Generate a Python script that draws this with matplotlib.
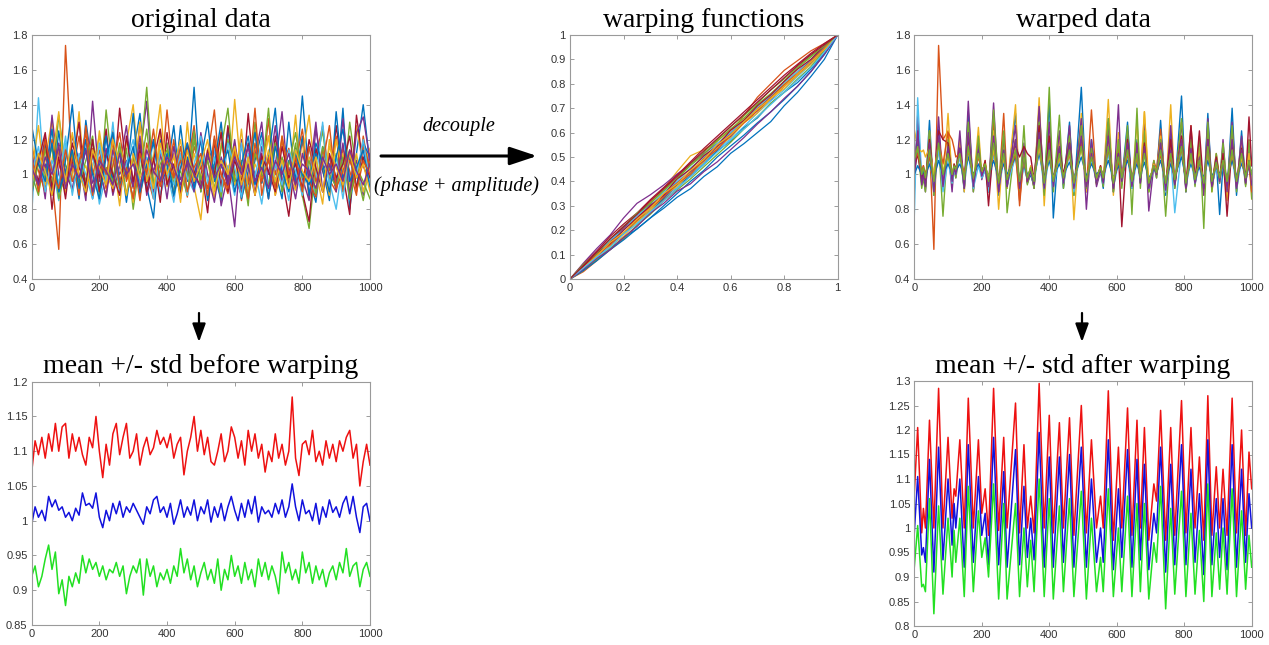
"""Static re-draw of the warping overview figure: original data, warping
functions, warped data, and mean +/- std before and after warping."""

import matplotlib

matplotlib.use("Agg")
import matplotlib.pyplot as plt  # noqa: E402
import numpy as np  # noqa: E402
from matplotlib.patches import FancyArrowPatch  # noqa: E402
from matplotlib.ticker import FuncFormatter  # noqa: E402

FIG_W, FIG_H = 1269, 645
MATLAB_COLORS = ["#0072BD", "#D95319", "#EDB120", "#7E2F8E", "#77AC30", "#4DBEEE", "#A2142F"]

# ---- original data: curves sampled every 20 on 0..1000 ----
ORIGINAL_CURVES = [
    [1.05, 0.92, 1.18, 0.88, 1.25, 0.95, 1.10, 0.86, 1.31, 1.02, 0.90, 1.22, 0.97, 1.15, 0.84, 1.12, 1.35,
     0.93, 0.75, 1.20, 1.05, 0.88, 1.28, 0.96, 1.50, 0.90, 1.12, 1.00, 0.85, 1.26, 0.94, 1.18, 0.87, 1.08,
     1.24, 0.92, 1.02, 0.86, 1.30, 0.95, 1.45, 0.98, 0.84, 1.16, 1.05, 0.92, 1.38, 0.80, 1.12, 1.40, 1.05],
    [1.10, 0.95, 1.05, 0.98, 0.57, 1.74, 1.00, 1.22, 0.90, 1.15, 1.02, 0.88, 1.25, 0.96, 1.08, 0.92, 1.30,
     1.00, 0.86, 1.12, 0.95, 1.20, 0.88, 1.05, 1.28, 0.93, 1.10, 1.37, 0.90, 1.02, 1.18, 0.85, 1.08, 1.25,
     0.95, 1.32, 0.88, 1.05, 1.15, 0.92, 1.20, 0.86, 1.10, 1.28, 0.97, 0.90, 1.15, 1.02, 0.88, 1.22, 1.00],
    [1.20, 0.90, 1.08, 1.32, 0.85, 1.15, 0.98, 1.36, 0.88, 1.05, 1.22, 0.92, 1.10, 0.82, 1.18, 1.40, 0.95,
     1.06, 0.88, 1.25, 0.97, 1.12, 0.84, 1.30, 0.93, 0.74, 1.15, 1.02, 1.26, 0.90, 1.43, 0.98, 0.86, 1.14,
     1.00, 1.22, 0.89, 1.08, 0.95, 1.34, 0.87, 1.10, 1.02, 0.83, 1.20, 0.95, 1.12, 0.90, 1.28, 1.04, 1.15],
    [0.95, 1.12, 0.86, 1.34, 1.00, 0.90, 1.22, 1.08, 0.85, 1.42, 0.96, 1.15, 0.88, 1.05, 1.28, 0.93, 1.10,
     1.42, 0.90, 1.02, 1.18, 0.87, 1.12, 0.97, 1.25, 0.92, 1.08, 1.16, 0.82, 1.00, 0.70, 1.20, 0.94, 1.10,
     1.30, 0.88, 1.05, 1.36, 0.92, 1.15, 0.98, 0.85, 1.26, 1.02, 1.10, 0.90, 1.32, 0.96, 1.08, 0.88, 1.12],
    [1.00, 0.88, 1.15, 0.92, 1.34, 1.05, 0.90, 1.10, 0.96, 1.20, 0.86, 1.37, 1.00, 0.92, 1.15, 0.80, 1.08,
     1.50, 0.95, 1.02, 1.18, 0.88, 1.10, 0.98, 1.25, 0.90, 1.12, 1.04, 0.87, 1.20, 0.95, 1.08, 0.82, 1.30,
     1.00, 1.38, 0.92, 1.10, 0.97, 1.18, 0.88, 0.69, 1.06, 1.25, 0.94, 1.12, 0.90, 1.30, 1.02, 0.85, 1.08],
    [0.77, 1.44, 0.92, 1.05, 0.85, 1.18, 0.96, 1.08, 0.88, 1.12, 0.83, 1.00, 1.15, 0.90, 1.06, 0.86, 1.10,
     0.95, 1.20, 0.88, 1.02, 0.84, 1.12, 0.98, 0.90, 1.08, 0.86, 1.15, 0.95, 1.05, 0.88, 1.18, 0.92, 1.02,
     0.83, 1.10, 0.97, 1.06, 0.85, 1.14, 0.93, 1.00, 0.88, 1.12, 0.96, 0.80, 1.08, 0.94, 1.04, 0.90, 1.02],
    [1.08, 0.96, 1.22, 0.80, 1.15, 0.92, 1.05, 1.30, 0.88, 1.12, 0.98, 1.26, 0.90, 1.38, 1.02, 0.86, 1.18,
     0.95, 1.10, 0.84, 1.24, 1.00, 0.90, 1.16, 0.95, 1.05, 0.78, 1.20, 0.92, 1.28, 1.00, 0.88, 1.35, 0.95,
     1.12, 0.86, 1.22, 0.98, 0.76, 1.10, 0.90, 0.73, 1.15, 1.02, 0.88, 1.28, 1.00, 0.77, 1.34, 1.05, 0.95],
    [0.88, 1.10, 1.00, 1.26, 0.90, 1.08, 1.40, 0.95, 1.15, 0.86, 1.05, 1.22, 0.93, 1.12, 0.98, 1.35, 0.88,
     1.06, 1.18, 0.95, 1.02, 1.28, 0.90, 1.10, 0.98, 1.20, 0.85, 1.06, 1.30, 0.92, 1.14, 0.86, 1.02, 1.24,
     0.95, 1.10, 1.38, 0.90, 1.08, 0.98, 1.22, 0.88, 1.12, 1.03, 0.85, 1.36, 0.97, 1.10, 0.92, 1.18, 1.10],
    [1.15, 1.02, 0.90, 1.20, 1.06, 0.94, 1.12, 0.88, 1.28, 1.00, 1.14, 0.92, 1.05, 1.24, 0.96, 1.10, 0.85,
     1.18, 1.02, 0.93, 1.37, 0.98, 1.08, 0.87, 1.16, 1.04, 0.92, 1.22, 1.00, 0.89, 1.12, 1.05, 0.95, 1.38,
     0.88, 1.10, 1.00, 1.20, 0.92, 1.06, 1.26, 0.96, 0.87, 1.14, 1.02, 1.22, 0.90, 1.08, 0.98, 1.16, 1.05],
    [1.02, 1.28, 0.94, 1.08, 1.36, 0.90, 1.14, 0.98, 1.05, 0.88, 1.25, 1.00, 0.92, 1.16, 1.06, 0.84, 1.30,
     0.96, 1.10, 1.40, 0.93, 1.04, 1.20, 0.90, 1.12, 0.98, 1.08, 0.86, 1.18, 1.02, 0.94, 1.26, 0.90, 1.06,
     0.97, 1.14, 0.88, 1.22, 1.00, 0.91, 1.10, 1.34, 0.95, 1.06, 0.88, 1.20, 1.02, 0.94, 1.12, 0.90, 1.04],
    [1.12, 0.94, 1.06, 0.88, 1.18, 1.00, 0.92, 1.10, 1.20, 0.95, 1.04, 0.87, 1.14, 1.00, 1.08, 0.93, 1.22,
     0.88, 1.02, 1.12, 0.86, 1.16, 0.97, 1.06, 0.90, 1.24, 1.00, 0.84, 1.10, 0.96, 1.20, 0.92, 1.06, 0.88,
     1.16, 1.00, 1.28, 0.94, 1.04, 0.86, 1.12, 0.98, 1.30, 0.90, 1.06, 0.95, 1.18, 0.88, 1.24, 1.33, 1.08],
    [0.90, 1.06, 0.98, 1.16, 0.86, 1.02, 1.12, 0.94, 1.08, 1.22, 0.90, 1.04, 0.96, 1.18, 0.88, 1.10, 1.00,
     1.26, 0.92, 1.06, 1.14, 0.95, 1.02, 0.88, 1.20, 0.97, 1.08, 0.92, 1.15, 1.38, 0.96, 1.04, 0.86, 1.12,
     1.00, 0.94, 1.18, 0.90, 1.06, 1.24, 0.98, 1.08, 0.89, 1.16, 1.00, 0.93, 1.10, 0.86, 1.04, 0.96, 0.86],
    [1.00, 1.16, 0.90, 1.08, 0.95, 1.22, 0.88, 1.12, 1.00, 0.86, 1.18, 0.96, 1.30, 0.90, 1.06, 1.20, 0.92,
     1.10, 0.86, 1.14, 1.02, 0.94, 1.16, 0.88, 1.06, 1.22, 0.95, 1.10, 0.90, 1.18, 1.04, 0.87, 1.12, 0.98,
     1.20, 0.90, 1.06, 0.94, 1.14, 1.02, 0.88, 1.16, 0.96, 1.30, 0.92, 1.10, 0.86, 1.14, 1.00, 1.20, 0.94],
    [0.96, 1.08, 1.24, 0.92, 1.10, 0.86, 1.18, 1.04, 0.94, 1.20, 0.90, 1.12, 1.00, 0.88, 1.22, 0.96, 1.14,
     0.90, 1.08, 1.26, 0.94, 1.06, 0.88, 1.18, 1.02, 0.92, 1.14, 1.00, 1.24, 0.90, 1.08, 0.96, 1.18, 0.88,
     1.10, 1.02, 0.90, 1.16, 0.98, 1.06, 0.92, 1.20, 1.04, 0.90, 1.12, 0.98, 1.06, 1.22, 0.92, 1.10, 0.98],
    [1.28, 1.06, 0.96, 1.18, 0.90, 1.02, 1.14, 0.92, 1.20, 1.00, 0.86, 1.10, 1.24, 0.94, 1.02, 1.16, 0.90,
     1.06, 1.20, 0.96, 1.12, 0.88, 1.04, 1.18, 0.92, 1.08, 1.30, 0.96, 1.04, 1.14, 0.90, 1.06, 1.22, 0.94,
     1.08, 0.86, 1.16, 1.02, 0.90, 1.12, 1.00, 0.94, 1.18, 1.06, 0.90, 1.10, 1.26, 0.96, 1.04, 1.14, 0.92],
    [1.10, 0.90, 1.20, 1.02, 0.92, 1.14, 0.96, 1.06, 1.24, 0.88, 1.10, 1.00, 1.18, 0.92, 1.04, 0.86, 1.12,
     1.00, 1.26, 0.94, 1.08, 0.98, 1.16, 0.90, 1.04, 1.12, 0.88, 1.20, 1.00, 0.92, 1.14, 1.04, 0.86, 1.18,
     0.96, 1.08, 0.92, 1.22, 1.00, 1.10, 0.90, 1.16, 0.96, 1.06, 1.28, 0.92, 1.02, 1.14, 0.90, 1.08, 1.00],
    [0.94, 1.12, 1.02, 0.88, 1.16, 0.96, 1.24, 1.00, 0.90, 1.14, 1.04, 0.94, 1.20, 1.06, 0.88, 1.12, 0.98,
     1.08, 0.92, 1.18, 1.00, 1.10, 0.86, 1.14, 0.96, 1.06, 1.20, 0.90, 1.08, 1.00, 1.16, 0.94, 1.10, 0.88,
     1.04, 1.22, 0.96, 1.08, 0.92, 1.14, 1.02, 0.96, 1.10, 0.90, 1.16, 1.04, 0.94, 1.12, 0.98, 1.06, 0.90],
    [1.04, 0.94, 1.10, 1.00, 1.16, 0.92, 1.06, 0.98, 1.14, 0.90, 1.08, 1.02, 0.94, 1.12, 1.00, 1.06, 0.92,
     1.14, 1.02, 0.96, 1.10, 1.04, 0.94, 1.08, 1.00, 0.92, 1.12, 0.98, 1.06, 0.94, 1.10, 1.00, 1.16, 0.96,
     1.04, 0.92, 1.08, 1.00, 1.12, 0.94, 1.06, 1.02, 0.92, 1.10, 1.00, 1.06, 0.96, 1.14, 1.02, 0.94, 1.06],
]

# ---- warping functions gamma(t) ----
WARP_T = [0, 0.05, 0.1, 0.15, 0.2, 0.25, 0.3, 0.35, 0.4, 0.45, 0.5,
          0.55, 0.6, 0.65, 0.7, 0.75, 0.8, 0.85, 0.9, 0.95, 1.0]
WARP_CURVES = [
    [0, .04, .085, .125, .17, .205, .25, .29, .335, .37, .42, .46, .515, .555, .60, .645, .71, .765, .83, .90, 1],
    [0, .03, .075, .12, .165, .22, .27, .325, .37, .425, .48, .535, .60, .67, .745, .80, .855, .895, .935, .965, 1],
    [0, .055, .10, .16, .21, .26, .315, .37, .44, .505, .53, .565, .61, .655, .705, .75, .80, .85, .90, .95, 1],
    [0, .065, .125, .18, .25, .31, .345, .385, .43, .47, .515, .555, .60, .645, .69, .735, .79, .835, .885, .94, 1],
    [0, .05, .11, .155, .215, .26, .31, .36, .41, .465, .51, .565, .615, .66, .715, .76, .81, .865, .91, .955, 1],
    [0, .04, .09, .135, .19, .23, .28, .335, .375, .43, .475, .53, .575, .625, .68, .73, .775, .83, .88, .935, 1],
    [0, .06, .115, .175, .225, .27, .325, .375, .425, .48, .535, .585, .635, .685, .735, .785, .835, .88, .925, .965, 1],
    [0, .045, .09, .145, .185, .24, .28, .33, .385, .42, .47, .525, .565, .62, .66, .72, .765, .805, .86, .925, 1],
    [0, .055, .09, .15, .205, .245, .295, .345, .395, .44, .495, .545, .595, .65, .70, .74, .79, .85, .895, .945, 1],
    [0, .04, .08, .135, .175, .235, .28, .34, .38, .435, .48, .54, .58, .64, .68, .74, .78, .835, .88, .94, 1],
    [0, .05, .11, .15, .21, .25, .305, .34, .395, .44, .485, .545, .585, .645, .69, .75, .795, .84, .895, .935, 1],
    [0, .035, .08, .125, .165, .22, .265, .32, .365, .41, .46, .51, .56, .615, .665, .72, .765, .82, .87, .935, 1],
    [0, .05, .10, .16, .20, .26, .30, .355, .40, .455, .50, .555, .60, .65, .705, .75, .805, .85, .90, .95, 1],
    [0, .05, .105, .145, .20, .25, .30, .345, .41, .45, .505, .545, .61, .65, .71, .755, .81, .86, .90, .955, 1],
    [0, .035, .075, .12, .16, .205, .25, .30, .35, .40, .445, .50, .545, .59, .64, .685, .735, .79, .85, .92, 1],
    [0, .045, .10, .14, .19, .24, .29, .335, .39, .43, .49, .53, .59, .64, .69, .745, .795, .84, .89, .945, 1],
    [0, .045, .095, .15, .19, .245, .29, .35, .39, .445, .49, .55, .59, .645, .695, .74, .79, .84, .89, .94, 1],
    [0, .04, .085, .12, .17, .215, .27, .31, .36, .39, .44, .48, .53, .58, .635, .685, .74, .79, .85, .92, 1],
    [0, .06, .105, .165, .215, .27, .31, .365, .415, .47, .52, .57, .625, .67, .72, .775, .82, .87, .915, .955, 1],
    [0, .045, .09, .13, .185, .225, .275, .32, .37, .42, .47, .52, .57, .615, .665, .715, .765, .815, .865, .93, 1],
    [0, .055, .11, .165, .215, .265, .32, .37, .42, .475, .525, .575, .625, .675, .725, .775, .825, .875, .92, .96, 1],
]

# ---- warped data and its mean +/- std share the aligned peak/valley grid ----
ALIGNED_X = [0, 10, 22, 27, 33, 45, 58, 72, 85, 100,
             112, 118, 123, 135, 148, 160, 175, 190, 200, 210,
             220, 235, 250, 265, 275, 300, 312, 325, 335, 345,
             355, 370, 385, 400, 412, 430, 442, 460, 473, 495,
             510, 525, 540, 552, 560, 575, 590, 605, 615, 632,
             645, 660, 670, 682, 695, 710, 718, 730, 745, 760,
             772, 792, 805, 820, 832, 845, 858, 870, 882, 895,
             905, 915, 927, 942, 955, 970, 982, 992, 1000]

WARPED_CURVES = [
    [1.05, 1.20, 0.95, 1.00, 0.92, 1.31, 0.88, 1.26, 0.95, 1.12,
     0.98, 1.02, 1.00, 1.18, 0.90, 1.36, 0.92, 1.15, 1.00, 1.05,
     0.90, 1.32, 0.88, 1.20, 0.92, 1.35, 0.90, 1.15, 0.95, 1.00,
     0.93, 1.38, 0.90, 1.42, 0.75, 1.22, 0.92, 1.30, 0.88, 1.50,
     0.90, 1.20, 0.95, 1.02, 0.92, 1.32, 0.90, 1.18, 0.96, 1.30,
     0.92, 1.20, 0.95, 1.25, 0.90, 1.05, 1.00, 1.31, 0.88, 1.22,
     0.92, 1.45, 0.90, 1.25, 0.95, 1.12, 0.90, 1.35, 0.92, 1.08,
     0.77, 1.05, 0.90, 1.38, 0.88, 1.25, 0.94, 1.15, 1.05],
    [1.10, 1.22, 0.98, 1.05, 0.96, 1.18, 0.57, 1.74, 1.20, 1.25,
     0.98, 1.05, 1.00, 1.15, 0.92, 1.25, 0.95, 1.12, 1.02, 1.06,
     0.94, 1.30, 0.92, 1.35, 0.95, 1.20, 0.82, 1.12, 0.98, 1.04,
     0.95, 1.28, 0.92, 1.25, 0.94, 1.18, 0.96, 1.22, 0.90, 1.30,
     0.92, 1.37, 0.95, 1.05, 0.97, 1.25, 0.93, 1.15, 0.98, 1.22,
     0.94, 1.18, 0.96, 1.20, 0.92, 1.08, 1.02, 1.26, 0.90, 1.15,
     0.95, 1.22, 0.92, 1.28, 0.97, 1.10, 0.92, 1.25, 0.94, 1.12,
     0.98, 1.10, 0.92, 1.22, 0.95, 1.18, 0.96, 1.10, 0.92],
    [1.18, 1.29, 0.96, 1.02, 0.93, 1.25, 0.92, 1.20, 0.95, 1.35,
     0.97, 1.06, 1.02, 1.20, 0.90, 1.22, 0.94, 1.27, 1.00, 1.08,
     0.93, 1.25, 0.80, 1.18, 0.92, 1.40, 0.90, 1.12, 0.96, 1.05,
     0.92, 1.44, 0.82, 1.28, 0.93, 1.20, 0.95, 1.25, 0.74, 1.35,
     0.90, 1.15, 0.94, 1.04, 0.96, 1.43, 0.88, 1.24, 0.96, 1.20,
     0.92, 1.30, 0.95, 1.36, 0.90, 1.06, 1.00, 1.22, 0.90, 1.40,
     0.93, 1.30, 0.92, 1.18, 0.95, 1.15, 0.88, 1.28, 0.90, 1.10,
     0.96, 1.08, 0.85, 1.25, 0.92, 1.20, 0.94, 1.12, 0.86],
    [0.90, 1.34, 0.95, 1.00, 0.90, 1.22, 0.92, 1.33, 0.94, 1.15,
     0.90, 1.05, 0.98, 1.25, 0.92, 1.42, 0.90, 1.18, 0.97, 1.04,
     0.92, 1.41, 0.90, 1.22, 0.93, 1.28, 0.88, 1.18, 0.95, 1.02,
     0.92, 1.39, 0.90, 1.30, 0.92, 1.25, 0.94, 1.28, 0.90, 1.32,
     0.80, 1.20, 0.93, 1.02, 0.95, 1.30, 0.90, 1.40, 0.94, 1.25,
     0.92, 1.18, 0.96, 1.29, 0.79, 1.05, 0.98, 1.20, 0.90, 1.28,
     0.93, 1.30, 0.90, 1.22, 0.94, 1.10, 0.88, 1.32, 0.92, 1.08,
     0.95, 1.20, 0.90, 1.30, 0.92, 1.22, 0.95, 1.12, 0.90],
    [1.05, 1.15, 0.92, 0.98, 0.90, 1.25, 0.88, 1.18, 0.76, 1.20,
     0.95, 1.04, 0.98, 1.12, 0.92, 1.30, 0.90, 1.22, 0.98, 1.05,
     0.90, 1.37, 0.92, 1.25, 0.78, 1.20, 0.90, 1.28, 0.94, 1.02,
     0.92, 1.30, 0.88, 1.50, 0.90, 1.34, 0.92, 1.22, 0.88, 1.28,
     0.92, 1.15, 0.95, 1.03, 0.93, 1.32, 0.90, 1.20, 0.92, 1.28,
     0.77, 1.38, 0.92, 1.25, 0.90, 1.08, 0.98, 1.20, 0.76, 1.18,
     0.92, 1.32, 0.90, 1.20, 0.93, 1.22, 0.69, 1.30, 0.90, 1.12,
     0.95, 1.18, 0.92, 1.28, 0.90, 1.15, 0.93, 1.20, 0.86],
    [0.76, 1.44, 0.98, 1.00, 0.96, 1.10, 0.92, 1.15, 0.90, 1.08,
     0.95, 1.02, 1.00, 1.10, 0.93, 1.12, 0.92, 1.05, 0.98, 1.02,
     0.90, 1.12, 0.92, 1.08, 0.94, 1.10, 0.92, 1.04, 0.97, 1.01,
     0.95, 1.15, 0.92, 1.10, 0.93, 1.08, 0.95, 1.12, 0.90, 1.18,
     0.94, 1.08, 0.96, 1.02, 0.95, 1.12, 0.93, 1.06, 0.97, 1.10,
     0.92, 1.08, 0.96, 1.12, 0.92, 1.04, 1.00, 1.12, 0.90, 1.10,
     0.78, 1.14, 0.93, 1.08, 0.95, 1.05, 0.92, 1.12, 0.94, 1.04,
     0.96, 1.06, 0.93, 1.10, 0.92, 1.08, 0.96, 1.05, 0.98],
    [1.02, 1.12, 0.97, 1.02, 0.95, 1.20, 0.96, 1.25, 1.20, 1.18,
     0.98, 1.06, 1.03, 1.15, 0.95, 1.22, 0.96, 1.12, 1.00, 1.08,
     0.82, 1.18, 0.95, 1.12, 0.96, 1.16, 1.10, 1.16, 1.12, 1.10,
     0.97, 1.28, 0.94, 1.22, 0.96, 1.15, 1.00, 1.18, 0.95, 1.20,
     0.94, 1.12, 0.97, 1.05, 0.96, 1.18, 0.93, 1.12, 0.70, 1.20,
     0.94, 1.12, 0.97, 1.18, 0.93, 1.06, 1.02, 1.15, 0.94, 1.20,
     0.95, 1.22, 0.93, 1.28, 0.96, 1.25, 0.92, 1.20, 0.94, 1.10,
     0.97, 1.12, 0.76, 1.18, 0.93, 1.15, 0.96, 1.33, 1.05],
    [1.00, 1.05, 1.00, 1.02, 0.99, 1.06, 0.98, 1.08, 1.00, 1.06,
     1.01, 1.03, 1.02, 1.06, 0.99, 1.10, 1.00, 1.06, 1.02, 1.04,
     0.99, 1.08, 0.98, 1.06, 1.00, 1.10, 0.98, 1.05, 1.00, 1.02,
     0.99, 1.12, 0.98, 1.08, 0.99, 1.06, 1.00, 1.07, 0.98, 1.10,
     0.99, 1.06, 1.00, 1.03, 1.00, 1.08, 0.98, 1.05, 1.00, 1.08,
     0.99, 1.06, 1.00, 1.07, 0.98, 1.03, 1.01, 1.08, 0.97, 1.06,
     0.99, 1.10, 0.98, 1.06, 1.00, 1.04, 0.98, 1.08, 0.99, 1.04,
     1.00, 1.05, 0.98, 1.08, 0.99, 1.06, 1.00, 1.04, 1.02],
    [1.08, 1.12, 1.02, 1.05, 1.00, 1.10, 0.98, 1.20, 1.06, 1.24,
     1.20, 1.15, 1.10, 1.12, 1.00, 1.14, 0.98, 1.10, 1.02, 1.06,
     0.96, 1.15, 0.95, 1.10, 0.97, 1.12, 0.85, 1.10, 0.96, 1.03,
     0.98, 1.18, 0.95, 1.14, 0.97, 1.10, 0.99, 1.12, 0.94, 1.18,
     0.96, 1.10, 0.98, 1.04, 0.97, 1.15, 0.95, 1.08, 0.98, 1.12,
     0.96, 1.10, 0.98, 1.15, 0.95, 1.05, 1.00, 1.12, 0.94, 1.10,
     0.97, 1.15, 0.95, 1.12, 0.97, 1.08, 0.94, 1.14, 0.96, 1.06,
     0.98, 1.08, 0.95, 1.12, 0.96, 1.10, 0.97, 1.06, 0.90],
    [1.12, 1.15, 1.13, 1.14, 1.10, 1.15, 1.00, 1.18, 1.02, 1.10,
     1.00, 1.04, 1.02, 1.12, 0.96, 1.16, 0.97, 1.12, 1.01, 1.05,
     0.98, 1.14, 0.96, 1.10, 0.97, 1.15, 0.95, 1.08, 0.98, 1.03,
     0.97, 1.16, 0.95, 1.12, 0.97, 1.10, 0.98, 1.13, 0.96, 1.15,
     0.95, 1.12, 0.97, 1.04, 0.98, 1.20, 0.96, 1.10, 0.99, 1.14,
     0.96, 1.12, 0.98, 1.36, 0.95, 1.06, 1.02, 1.14, 0.95, 1.12,
     0.97, 1.18, 0.95, 1.10, 0.97, 1.08, 0.95, 1.15, 0.96, 1.06,
     0.98, 1.08, 0.95, 1.14, 0.96, 1.10, 0.97, 1.12, 0.96],
    [1.00, 1.25, 0.94, 1.00, 0.93, 1.18, 0.90, 1.22, 0.93, 1.16,
     0.96, 1.04, 1.00, 1.15, 0.92, 1.24, 0.93, 1.14, 0.99, 1.05,
     0.93, 1.22, 0.90, 1.14, 0.93, 1.20, 0.92, 1.10, 0.96, 1.02,
     0.94, 1.24, 0.92, 1.18, 0.93, 1.16, 0.95, 1.18, 0.92, 1.22,
     0.93, 1.12, 0.95, 1.03, 0.95, 1.22, 0.92, 1.12, 0.96, 1.18,
     0.93, 1.15, 0.95, 1.16, 0.92, 1.05, 1.00, 1.18, 0.91, 1.14,
     0.94, 1.20, 0.92, 1.15, 0.95, 1.08, 0.92, 1.20, 0.93, 1.08,
     0.96, 1.08, 0.92, 1.20, 0.92, 1.14, 0.95, 1.08, 0.94],
    [1.08, 1.16, 1.00, 1.04, 0.98, 1.14, 0.96, 1.18, 1.00, 1.12,
     1.00, 1.05, 1.03, 1.12, 0.97, 1.16, 0.98, 1.12, 1.02, 1.06,
     0.96, 1.18, 0.95, 1.12, 0.97, 1.14, 0.96, 1.10, 0.98, 1.04,
     0.96, 1.20, 0.95, 1.14, 0.96, 1.12, 0.98, 1.14, 0.95, 1.16,
     0.96, 1.10, 0.98, 1.04, 0.98, 1.16, 0.95, 1.10, 0.98, 1.14,
     0.96, 1.12, 0.98, 1.12, 0.95, 1.05, 1.01, 1.14, 0.95, 1.12,
     0.97, 1.16, 0.95, 1.12, 0.97, 1.08, 0.95, 1.16, 0.96, 1.07,
     0.98, 1.08, 0.96, 1.14, 0.96, 1.12, 0.98, 1.08, 1.00],
]

AFTER_UPPER = [1.07, 1.205, 0.99, 1.04, 1.00, 1.22, 1.00, 1.285, 1.00, 1.185,
               1.02, 1.08, 1.065, 1.18, 1.00, 1.265, 1.00, 1.18, 1.03, 1.08,
               0.985, 1.285, 0.995, 1.185, 1.00, 1.255, 0.99, 1.17, 1.00, 1.065,
               0.99, 1.295, 1.00, 1.23, 0.99, 1.215, 1.00, 1.225, 0.985, 1.25,
               0.99, 1.18, 1.00, 1.065, 1.00, 1.28, 0.975, 1.165, 1.00, 1.245,
               0.985, 1.22, 1.00, 1.205, 0.975, 1.09, 1.055, 1.24, 0.975, 1.205,
               0.985, 1.26, 0.99, 1.205, 1.00, 1.145, 0.975, 1.27, 0.985, 1.125,
               1.00, 1.12, 0.985, 1.265, 0.99, 1.20, 0.985, 1.155, 1.08]
AFTER_MEAN = [0.99, 1.105, 0.945, 0.96, 0.93, 1.14, 0.91, 1.165, 0.935, 1.10,
              0.965, 1.05, 1.00, 1.10, 0.92, 1.17, 0.93, 1.105, 0.985, 1.03,
              0.925, 1.185, 0.925, 1.115, 0.92, 1.16, 0.925, 1.085, 0.94, 1.02,
              0.935, 1.195, 0.92, 1.145, 0.92, 1.145, 0.93, 1.15, 0.92, 1.165,
              0.92, 1.10, 0.93, 1.00, 0.93, 1.18, 0.915, 1.08, 0.94, 1.16,
              0.92, 1.14, 0.935, 1.13, 0.915, 1.03, 0.99, 1.165, 0.91, 1.13,
              0.925, 1.17, 0.925, 1.12, 0.93, 1.07, 0.905, 1.18, 0.925, 1.06,
              0.94, 1.06, 0.915, 1.17, 0.92, 1.12, 0.93, 1.07, 1.00]
AFTER_LOWER = [0.92, 1.005, 0.88, 0.885, 0.87, 1.06, 0.825, 1.045, 0.865, 1.02,
               0.90, 0.995, 0.93, 1.02, 0.86, 1.085, 0.87, 1.035, 0.94, 0.98,
               0.90, 1.09, 0.855, 1.05, 0.855, 1.05, 0.86, 1.00, 0.88, 0.975,
               0.87, 1.10, 0.86, 1.06, 0.855, 1.045, 0.87, 1.06, 0.86, 1.075,
               0.855, 1.02, 0.87, 0.94, 0.87, 1.08, 0.86, 1.00, 0.87, 1.065,
               0.86, 1.05, 0.87, 1.05, 0.855, 0.97, 0.93, 1.085, 0.835, 1.04,
               0.865, 1.075, 0.86, 1.03, 0.865, 0.995, 0.85, 1.09, 0.86, 0.99,
               0.875, 1.00, 0.865, 1.08, 0.86, 1.035, 0.875, 0.985, 0.92]

# ---- mean +/- std before warping, sampled every 10 ----
BEFORE_X = list(range(0, 1001, 10))
BEFORE_UPPER = [1.07, 1.115, 1.095, 1.12, 1.09, 1.125, 1.10, 1.14, 1.10, 1.135,
                1.14, 1.09, 1.125, 1.10, 1.12, 1.095, 1.08, 1.12, 1.105, 1.15,
                1.10, 1.062, 1.11, 1.08, 1.125, 1.14, 1.095, 1.12, 1.14, 1.09,
                1.10, 1.125, 1.08, 1.105, 1.12, 1.095, 1.105, 1.13, 1.11, 1.12,
                1.105, 1.125, 1.09, 1.11, 1.12, 1.066, 1.10, 1.12, 1.15, 1.10,
                1.13, 1.095, 1.12, 1.085, 1.08, 1.10, 1.125, 1.085, 1.10, 1.135,
                1.12, 1.09, 1.115, 1.08, 1.13, 1.10, 1.125, 1.09, 1.11, 1.07,
                1.10, 1.085, 1.125, 1.09, 1.11, 1.08, 1.10, 1.178, 1.09, 1.065,
                1.11, 1.115, 1.095, 1.13, 1.085, 1.10, 1.08, 1.115, 1.09, 1.11,
                1.085, 1.115, 1.10, 1.12, 1.13, 1.09, 1.11, 1.05, 1.085, 1.11,
                1.08]
BEFORE_MEAN = [0.995, 1.02, 1.005, 1.015, 1.00, 1.035, 1.02, 1.03, 1.015, 1.02,
               1.005, 1.012, 1.00, 1.018, 1.008, 1.04, 1.022, 1.025, 1.018, 1.04,
               1.005, 0.99, 1.015, 1.00, 1.025, 1.01, 1.028, 1.005, 1.02, 1.012,
               1.025, 1.015, 1.005, 0.995, 1.02, 1.01, 1.03, 1.035, 1.012, 1.02,
               1.005, 1.025, 0.995, 1.01, 1.03, 1.005, 1.02, 1.008, 1.03, 1.00,
               1.02, 1.01, 1.03, 0.998, 1.02, 1.005, 1.025, 1.00, 1.02, 1.035,
               1.015, 1.00, 1.025, 1.005, 1.03, 1.01, 1.035, 0.998, 1.02, 1.01,
               1.015, 1.005, 1.025, 1.01, 1.03, 1.005, 1.02, 1.053, 1.02, 1.00,
               1.03, 1.01, 1.015, 1.00, 1.025, 0.995, 1.02, 1.005, 1.03, 1.012,
               1.02, 1.005, 1.025, 1.035, 1.01, 1.035, 1.005, 0.983, 1.02, 1.025,
               1.00]
BEFORE_LOWER = [0.92, 0.935, 0.905, 0.92, 0.945, 0.965, 0.93, 0.955, 0.895, 0.915,
                0.878, 0.92, 0.905, 0.925, 0.91, 0.95, 0.925, 0.945, 0.93, 0.94,
                0.92, 0.935, 0.915, 0.93, 0.925, 0.94, 0.92, 0.935, 0.895, 0.92,
                0.935, 0.925, 0.945, 0.893, 0.945, 0.92, 0.935, 0.905, 0.925, 0.915,
                0.93, 0.91, 0.935, 0.92, 0.96, 0.925, 0.945, 0.915, 0.935, 0.905,
                0.925, 0.94, 0.915, 0.93, 0.91, 0.945, 0.90, 0.93, 0.915, 0.95,
                0.92, 0.935, 0.91, 0.94, 0.915, 0.93, 0.905, 0.945, 0.92, 0.94,
                0.915, 0.935, 0.92, 0.895, 0.955, 0.925, 0.94, 0.915, 0.93, 0.91,
                0.955, 0.925, 0.94, 0.91, 0.935, 0.915, 0.93, 0.905, 0.925, 0.935,
                0.915, 0.94, 0.925, 0.96, 0.92, 0.935, 0.94, 0.905, 0.93, 0.94,
                0.92]

TITLE_FONT = {"family": "Liberation Serif", "size": 20}
NOTE_FONT = {"family": "Liberation Serif", "size": 14.5, "style": "italic"}


def _fig_xy(x_px, y_px):
    """Image pixel (origin top-left) -> figure fraction."""
    return x_px / FIG_W, 1 - y_px / FIG_H


def _add_axes(fig, left, top, right, bottom):
    x0, y0 = _fig_xy(left, bottom)
    return fig.add_axes([x0, y0, (right - left) / FIG_W, (bottom - top) / FIG_H])


def _style_axes(ax, xlim, ylim, xticks, yticks, title):
    ax.set_xlim(*xlim)
    ax.set_ylim(*ylim)
    ax.set_xticks(xticks)
    ax.set_yticks(yticks)
    fmt = FuncFormatter(lambda v, _: f"{v:g}")
    ax.xaxis.set_major_formatter(fmt)
    ax.yaxis.set_major_formatter(fmt)
    ax.tick_params(direction="in", length=3, width=0.6, top=True, right=True,
                   labelsize=8, color="#8c8c8c", labelcolor="#333333", pad=3)
    for spine in ax.spines.values():
        spine.set_color("#9a9a9a")
        spine.set_linewidth(0.8)
    ax.set_title(title, fontdict=TITLE_FONT, pad=6)


def _arrow(fig, start, end, lw, head):
    fig.add_artist(FancyArrowPatch(
        _fig_xy(*start), _fig_xy(*end), transform=fig.transFigure,
        arrowstyle=f"-|>,head_length={head[0]},head_width={head[1]}",
        mutation_scale=10, lw=lw, color="black", shrinkA=0, shrinkB=0,
    ))


def main():
    plt.rcParams["font.family"] = ["Liberation Sans", "DejaVu Sans"]
    fig = plt.figure(figsize=(FIG_W / 100, FIG_H / 100), dpi=100)

    data_ticks = list(range(0, 1001, 200))

    ax = _add_axes(fig, 31.7, 35, 370, 279)
    for i, curve in enumerate(ORIGINAL_CURVES):
        ax.plot(np.linspace(0, 1000, len(curve)), curve,
                color=MATLAB_COLORS[i % 7], lw=1.0)
    _style_axes(ax, (0, 1000), (0.4, 1.8), data_ticks,
                np.round(np.arange(0.4, 1.81, 0.2), 2), "original data")

    ax = _add_axes(fig, 570, 35, 837.7, 279)
    for i, curve in enumerate(WARP_CURVES):
        ax.plot(WARP_T, curve, color=MATLAB_COLORS[i % 7], lw=0.9)
    _style_axes(ax, (0, 1), (0, 1), np.round(np.arange(0, 1.01, 0.2), 2),
                np.round(np.arange(0, 1.01, 0.1), 2), "warping functions")

    ax = _add_axes(fig, 914.3, 35, 1251.7, 279)
    for i, curve in enumerate(WARPED_CURVES):
        ax.plot(ALIGNED_X, curve, color=MATLAB_COLORS[i % 7], lw=1.0)
    _style_axes(ax, (0, 1000), (0.4, 1.8), data_ticks,
                np.round(np.arange(0.4, 1.81, 0.2), 2), "warped data")

    ax = _add_axes(fig, 31.7, 381.7, 370, 625)
    ax.plot(BEFORE_X, BEFORE_UPPER, color="#ee1111", lw=1.1)
    ax.plot(BEFORE_X, BEFORE_MEAN, color="#1111dd", lw=1.1)
    ax.plot(BEFORE_X, BEFORE_LOWER, color="#22e022", lw=1.1)
    _style_axes(ax, (0, 1000), (0.85, 1.2), data_ticks,
                np.round(np.arange(0.85, 1.201, 0.05), 2), "mean +/- std before warping")

    ax = _add_axes(fig, 914.3, 381, 1251.7, 626)
    ax.plot(ALIGNED_X, AFTER_UPPER, color="#ee1111", lw=1.1)
    ax.plot(ALIGNED_X, AFTER_MEAN, color="#1111dd", lw=1.1)
    ax.plot(ALIGNED_X, AFTER_LOWER, color="#22e022", lw=1.1)
    _style_axes(ax, (0, 1000), (0.8, 1.3), data_ticks,
                np.round(np.arange(0.8, 1.301, 0.05), 2), "mean +/- std after warping")

    # decouple arrow between original data and warping functions
    _arrow(fig, (381, 156), (537, 156), lw=2.2, head=(1.65, 0.55))
    fig.text(*_fig_xy(459, 127), "decouple", ha="center", va="center", fontdict=NOTE_FONT)
    fig.text(*_fig_xy(457, 186), "(phase + amplitude)", ha="center", va="center", fontdict=NOTE_FONT)
    # down arrows into the mean/std panels
    _arrow(fig, (199, 313), (199, 342), lw=1.6, head=(1.1, 0.4))
    _arrow(fig, (1082, 313), (1082, 342), lw=1.6, head=(1.1, 0.4))

    fig.savefig("out.png", dpi=100, facecolor="white")


if __name__ == "__main__":
    main()
